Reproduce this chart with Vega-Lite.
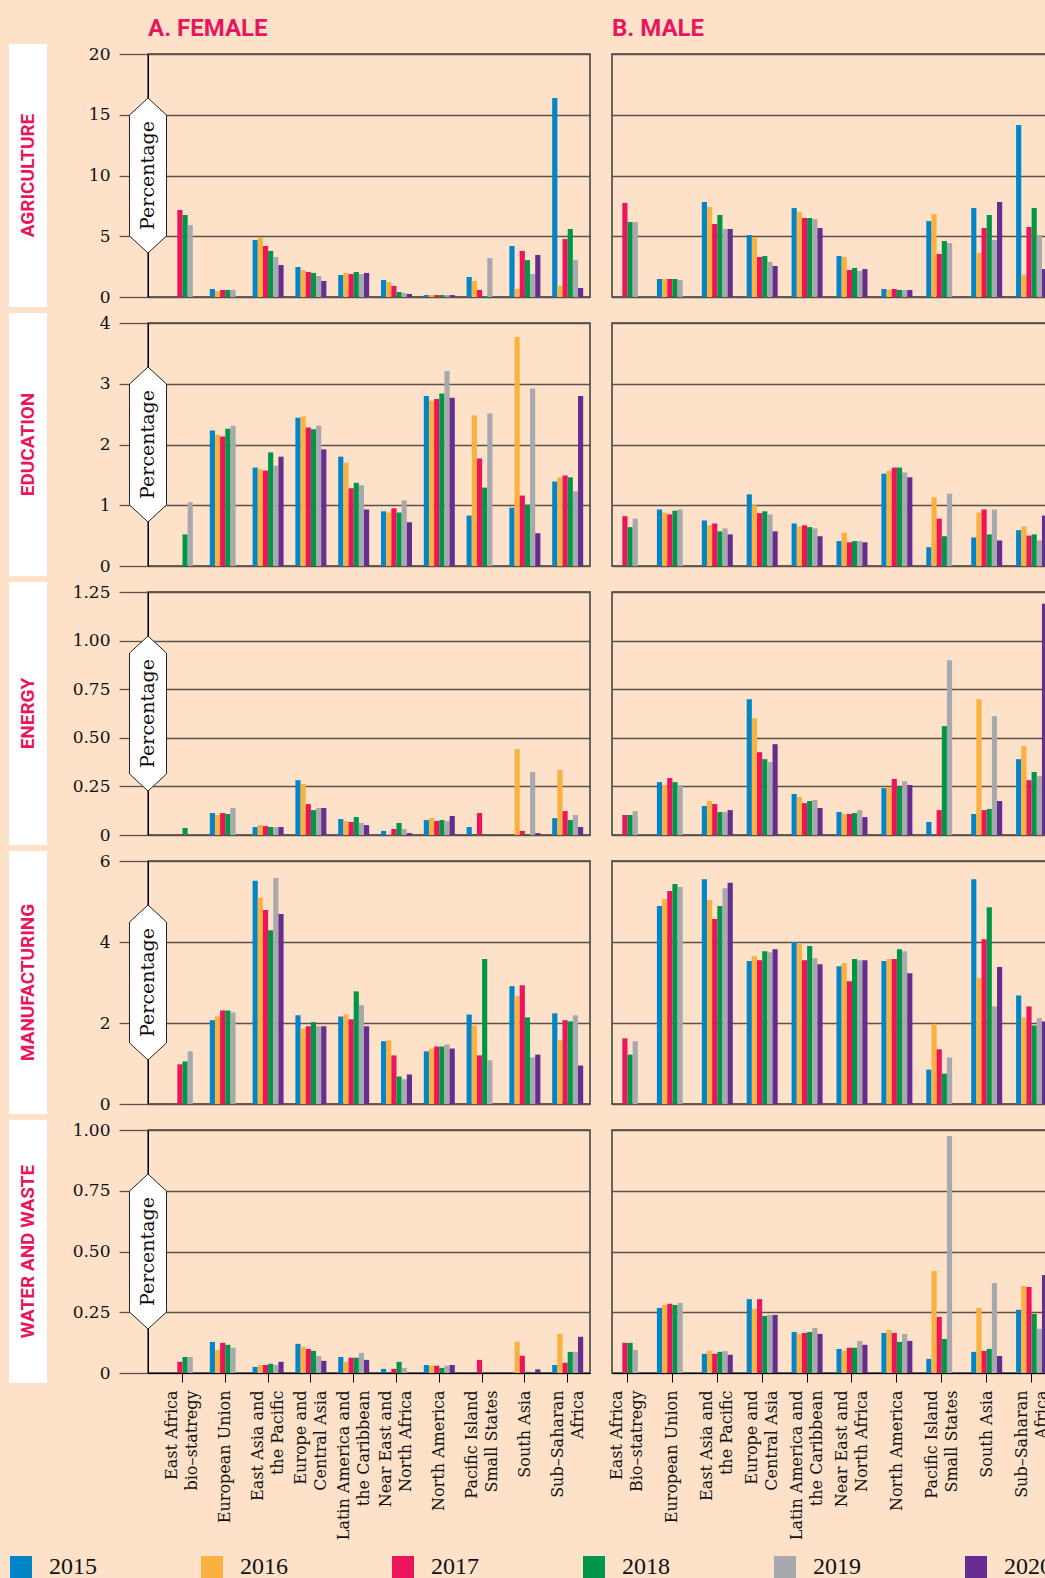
{
"$schema": "https://vega.github.io/schema/vega-lite/v6.json",
"background": "#FDE1C9",
"padding": {"left": 8, "top": 16, "right": 0, "bottom": 0},
"columns": 4,
"spacing": {"row": 26, "column": 22},
"bounds": "flush",
"datasets": {"bars": [
{"sector":"AGRICULTURE","sex":"F","region":"East Africa|bio–statregy","2017":7.16,"2018":6.75,"2019":5.92},
{"sector":"AGRICULTURE","sex":"F","region":"European Union","2015":0.66,"2016":0.49,"2017":0.58,"2018":0.58,"2019":0.58},
{"sector":"AGRICULTURE","sex":"F","region":"East Asia and|the Pacific","2015":4.69,"2016":4.91,"2017":4.20,"2018":3.79,"2019":3.29,"2020":2.63},
{"sector":"AGRICULTURE","sex":"F","region":"Europe and|Central Asia","2015":2.47,"2016":2.22,"2017":2.06,"2018":1.98,"2019":1.73,"2020":1.32},
{"sector":"AGRICULTURE","sex":"F","region":"Latin America and|the Caribbean","2015":1.81,"2016":1.98,"2017":1.89,"2018":2.06,"2019":1.89,"2020":1.98},
{"sector":"AGRICULTURE","sex":"F","region":"Near East and|North Africa","2015":1.40,"2016":1.23,"2017":0.91,"2018":0.41,"2019":0.33,"2020":0.25},
{"sector":"AGRICULTURE","sex":"F","region":"North America","2015":0.16,"2016":0.16,"2017":0.16,"2018":0.16,"2019":0.16,"2020":0.16},
{"sector":"AGRICULTURE","sex":"F","region":"Pacific Island|Small States","2015":1.65,"2016":1.32,"2017":0.58,"2018":0.08,"2019":3.21},
{"sector":"AGRICULTURE","sex":"F","region":"South Asia","2015":4.20,"2016":0.66,"2017":3.79,"2018":3.04,"2019":1.89,"2020":3.46},
{"sector":"AGRICULTURE","sex":"F","region":"Sub–Saharan|Africa","2015":16.38,"2016":0.91,"2017":4.77,"2018":5.60,"2019":3.04,"2020":0.74},
{"sector":"AGRICULTURE","sex":"M","region":"East Africa|bio–statregy","2017":7.74,"2018":6.17,"2019":6.17},
{"sector":"AGRICULTURE","sex":"M","region":"European Union","2015":1.48,"2016":1.48,"2017":1.48,"2018":1.48,"2019":1.40},
{"sector":"AGRICULTURE","sex":"M","region":"East Asia and|the Pacific","2015":7.82,"2016":7.41,"2017":6.01,"2018":6.75,"2019":5.60,"2020":5.60},
{"sector":"AGRICULTURE","sex":"M","region":"Europe and|Central Asia","2015":5.10,"2016":4.94,"2017":3.29,"2018":3.37,"2019":2.88,"2020":2.55},
{"sector":"AGRICULTURE","sex":"M","region":"Latin America and|the Caribbean","2015":7.32,"2016":6.99,"2017":6.50,"2018":6.50,"2019":6.42,"2020":5.68},
{"sector":"AGRICULTURE","sex":"M","region":"Near East and|North Africa","2015":3.37,"2016":3.29,"2017":2.22,"2018":2.39,"2019":2.14,"2020":2.30},
{"sector":"AGRICULTURE","sex":"M","region":"North America","2015":0.66,"2016":0.58,"2017":0.66,"2018":0.58,"2019":0.58,"2020":0.58},
{"sector":"AGRICULTURE","sex":"M","region":"Pacific Island|Small States","2015":6.25,"2016":6.83,"2017":3.54,"2018":4.61,"2019":4.44},
{"sector":"AGRICULTURE","sex":"M","region":"South Asia","2015":7.32,"2016":3.62,"2017":5.68,"2018":6.75,"2019":4.69,"2020":7.82},
{"sector":"AGRICULTURE","sex":"M","region":"Sub–Saharan|Africa","2015":14.15,"2016":1.81,"2017":5.76,"2018":7.32,"2019":5.10,"2020":2.30},
{"sector":"EDUCATION","sex":"F","region":"East Africa|bio–statregy","2018":0.52,"2019":1.05},
{"sector":"EDUCATION","sex":"F","region":"European Union","2015":2.23,"2016":2.16,"2017":2.13,"2018":2.26,"2019":2.31},
{"sector":"EDUCATION","sex":"F","region":"East Asia and|the Pacific","2015":1.62,"2016":1.59,"2017":1.57,"2018":1.87,"2019":1.65,"2020":1.80},
{"sector":"EDUCATION","sex":"F","region":"Europe and|Central Asia","2015":2.44,"2016":2.46,"2017":2.28,"2018":2.25,"2019":2.31,"2020":1.92},
{"sector":"EDUCATION","sex":"F","region":"Latin America and|the Caribbean","2015":1.80,"2016":1.70,"2017":1.28,"2018":1.37,"2019":1.33,"2020":0.93},
{"sector":"EDUCATION","sex":"F","region":"Near East and|North Africa","2015":0.90,"2016":0.88,"2017":0.95,"2018":0.88,"2019":1.08,"2020":0.72},
{"sector":"EDUCATION","sex":"F","region":"North America","2015":2.80,"2016":2.72,"2017":2.75,"2018":2.84,"2019":3.21,"2020":2.77},
{"sector":"EDUCATION","sex":"F","region":"Pacific Island|Small States","2015":0.83,"2016":2.48,"2017":1.77,"2018":1.29,"2019":2.51},
{"sector":"EDUCATION","sex":"F","region":"South Asia","2015":0.96,"2016":3.77,"2017":1.16,"2018":1.01,"2019":2.92,"2020":0.54},
{"sector":"EDUCATION","sex":"F","region":"Sub–Saharan|Africa","2015":1.39,"2016":1.46,"2017":1.49,"2018":1.46,"2019":1.23,"2020":2.80},
{"sector":"EDUCATION","sex":"M","region":"East Africa|bio–statregy","2017":0.82,"2018":0.64,"2019":0.78},
{"sector":"EDUCATION","sex":"M","region":"European Union","2015":0.93,"2016":0.88,"2017":0.85,"2018":0.91,"2019":0.93},
{"sector":"EDUCATION","sex":"M","region":"East Asia and|the Pacific","2015":0.75,"2016":0.67,"2017":0.70,"2018":0.57,"2019":0.62,"2020":0.52},
{"sector":"EDUCATION","sex":"M","region":"Europe and|Central Asia","2015":1.18,"2016":1.00,"2017":0.87,"2018":0.90,"2019":0.85,"2020":0.57},
{"sector":"EDUCATION","sex":"M","region":"Latin America and|the Caribbean","2015":0.70,"2016":0.65,"2017":0.67,"2018":0.64,"2019":0.62,"2020":0.49},
{"sector":"EDUCATION","sex":"M","region":"Near East and|North Africa","2015":0.41,"2016":0.55,"2017":0.39,"2018":0.41,"2019":0.41,"2020":0.39},
{"sector":"EDUCATION","sex":"M","region":"North America","2015":1.52,"2016":1.57,"2017":1.62,"2018":1.62,"2019":1.54,"2020":1.46},
{"sector":"EDUCATION","sex":"M","region":"Pacific Island|Small States","2015":0.31,"2016":1.13,"2017":0.78,"2018":0.49,"2019":1.19},
{"sector":"EDUCATION","sex":"M","region":"South Asia","2015":0.47,"2016":0.88,"2017":0.93,"2018":0.52,"2019":0.93,"2020":0.42},
{"sector":"EDUCATION","sex":"M","region":"Sub–Saharan|Africa","2015":0.59,"2016":0.65,"2017":0.50,"2018":0.52,"2019":0.42,"2020":0.83},
{"sector":"ENERGY","sex":"F","region":"East Africa|bio–statregy","2017":0.005,"2018":0.036},
{"sector":"ENERGY","sex":"F","region":"European Union","2015":0.113,"2016":0.103,"2017":0.113,"2018":0.108,"2019":0.139},
{"sector":"ENERGY","sex":"F","region":"East Asia and|the Pacific","2015":0.041,"2016":0.051,"2017":0.046,"2018":0.041,"2019":0.041,"2020":0.041},
{"sector":"ENERGY","sex":"F","region":"Europe and|Central Asia","2015":0.282,"2016":0.262,"2017":0.159,"2018":0.128,"2019":0.139,"2020":0.139},
{"sector":"ENERGY","sex":"F","region":"Latin America and|the Caribbean","2015":0.082,"2016":0.072,"2017":0.067,"2018":0.092,"2019":0.062,"2020":0.051},
{"sector":"ENERGY","sex":"F","region":"Near East and|North Africa","2015":0.021,"2016":0.005,"2017":0.031,"2018":0.062,"2019":0.031,"2020":0.010},
{"sector":"ENERGY","sex":"F","region":"North America","2015":0.077,"2016":0.087,"2017":0.072,"2018":0.077,"2019":0.072,"2020":0.098},
{"sector":"ENERGY","sex":"F","region":"Pacific Island|Small States","2015":0.041,"2017":0.113},
{"sector":"ENERGY","sex":"F","region":"South Asia","2016":0.442,"2017":0.021,"2018":0.005,"2019":0.324,"2020":0.010},
{"sector":"ENERGY","sex":"F","region":"Sub–Saharan|Africa","2015":0.087,"2016":0.334,"2017":0.123,"2018":0.077,"2019":0.103,"2020":0.041},
{"sector":"ENERGY","sex":"M","region":"East Africa|bio–statregy","2017":0.103,"2018":0.103,"2019":0.123},
{"sector":"ENERGY","sex":"M","region":"European Union","2015":0.272,"2016":0.257,"2017":0.293,"2018":0.272,"2019":0.257},
{"sector":"ENERGY","sex":"M","region":"East Asia and|the Pacific","2015":0.149,"2016":0.175,"2017":0.159,"2018":0.118,"2019":0.118,"2020":0.128},
{"sector":"ENERGY","sex":"M","region":"Europe and|Central Asia","2015":0.698,"2016":0.601,"2017":0.426,"2018":0.390,"2019":0.375,"2020":0.467},
{"sector":"ENERGY","sex":"M","region":"Latin America and|the Caribbean","2015":0.211,"2016":0.195,"2017":0.164,"2018":0.175,"2019":0.180,"2020":0.139},
{"sector":"ENERGY","sex":"M","region":"Near East and|North Africa","2015":0.118,"2016":0.108,"2017":0.108,"2018":0.113,"2019":0.128,"2020":0.092},
{"sector":"ENERGY","sex":"M","region":"North America","2015":0.241,"2016":0.247,"2017":0.288,"2018":0.247,"2019":0.277,"2020":0.257},
{"sector":"ENERGY","sex":"M","region":"Pacific Island|Small States","2015":0.067,"2017":0.128,"2018":0.560,"2019":0.899},
{"sector":"ENERGY","sex":"M","region":"South Asia","2015":0.108,"2016":0.698,"2017":0.128,"2018":0.134,"2019":0.611,"2020":0.175},
{"sector":"ENERGY","sex":"M","region":"Sub–Saharan|Africa","2015":0.390,"2016":0.457,"2017":0.282,"2018":0.324,"2019":0.303,"2020":1.19},
{"sector":"MANUFACTURING","sex":"F","region":"East Africa|bio–statregy","2017":0.98,"2018":1.05,"2019":1.30},
{"sector":"MANUFACTURING","sex":"F","region":"European Union","2015":2.07,"2016":2.16,"2017":2.31,"2018":2.31,"2019":2.26},
{"sector":"MANUFACTURING","sex":"F","region":"East Asia and|the Pacific","2015":5.51,"2016":5.09,"2017":4.79,"2018":4.29,"2019":5.58,"2020":4.69},
{"sector":"MANUFACTURING","sex":"F","region":"Europe and|Central Asia","2015":2.19,"2016":1.87,"2017":1.92,"2018":2.02,"2019":1.92,"2020":1.92},
{"sector":"MANUFACTURING","sex":"F","region":"Latin America and|the Caribbean","2015":2.16,"2016":2.21,"2017":2.09,"2018":2.78,"2019":2.44,"2020":1.92},
{"sector":"MANUFACTURING","sex":"F","region":"Near East and|North Africa","2015":1.55,"2016":1.57,"2017":1.20,"2018":0.68,"2019":0.61,"2020":0.73},
{"sector":"MANUFACTURING","sex":"F","region":"North America","2015":1.30,"2016":1.37,"2017":1.42,"2018":1.42,"2019":1.47,"2020":1.37},
{"sector":"MANUFACTURING","sex":"F","region":"Pacific Island|Small States","2015":2.21,"2016":1.94,"2017":1.20,"2018":3.58,"2019":1.08},
{"sector":"MANUFACTURING","sex":"F","region":"South Asia","2015":2.91,"2016":2.66,"2017":2.93,"2018":2.14,"2019":1.15,"2020":1.22},
{"sector":"MANUFACTURING","sex":"F","region":"Sub–Saharan|Africa","2015":2.24,"2016":1.57,"2017":2.07,"2018":2.04,"2019":2.19,"2020":0.95},
{"sector":"MANUFACTURING","sex":"M","region":"East Africa|bio–statregy","2017":1.62,"2018":1.22,"2019":1.55},
{"sector":"MANUFACTURING","sex":"M","region":"European Union","2015":4.89,"2016":5.06,"2017":5.26,"2018":5.43,"2019":5.36},
{"sector":"MANUFACTURING","sex":"M","region":"East Asia and|the Pacific","2015":5.55,"2016":5.04,"2017":4.57,"2018":4.89,"2019":5.33,"2020":5.46},
{"sector":"MANUFACTURING","sex":"M","region":"Europe and|Central Asia","2015":3.53,"2016":3.65,"2017":3.55,"2018":3.77,"2019":3.75,"2020":3.82},
{"sector":"MANUFACTURING","sex":"M","region":"Latin America and|the Caribbean","2015":4.00,"2016":3.95,"2017":3.55,"2018":3.90,"2019":3.60,"2020":3.45},
{"sector":"MANUFACTURING","sex":"M","region":"Near East and|North Africa","2015":3.40,"2016":3.48,"2017":3.03,"2018":3.58,"2019":3.55,"2020":3.55},
{"sector":"MANUFACTURING","sex":"M","region":"North America","2015":3.53,"2016":3.58,"2017":3.58,"2018":3.82,"2019":3.77,"2020":3.23},
{"sector":"MANUFACTURING","sex":"M","region":"Pacific Island|Small States","2015":0.85,"2016":1.98,"2017":1.35,"2018":0.75,"2019":1.15},
{"sector":"MANUFACTURING","sex":"M","region":"South Asia","2015":5.55,"2016":3.11,"2017":4.07,"2018":4.86,"2019":2.41,"2020":3.38},
{"sector":"MANUFACTURING","sex":"M","region":"Sub–Saharan|Africa","2015":2.68,"2016":2.14,"2017":2.41,"2018":1.94,"2019":2.12,"2020":2.04},
{"sector":"WATER AND WASTE","sex":"F","region":"East Africa|bio–statregy","2017":0.046,"2018":0.066,"2019":0.066},
{"sector":"WATER AND WASTE","sex":"F","region":"European Union","2015":0.128,"2016":0.095,"2017":0.124,"2018":0.116,"2019":0.104},
{"sector":"WATER AND WASTE","sex":"F","region":"East Asia and|the Pacific","2015":0.025,"2016":0.033,"2017":0.033,"2018":0.038,"2019":0.033,"2020":0.046},
{"sector":"WATER AND WASTE","sex":"F","region":"Europe and|Central Asia","2015":0.120,"2016":0.108,"2017":0.099,"2018":0.091,"2019":0.070,"2020":0.050},
{"sector":"WATER AND WASTE","sex":"F","region":"Latin America and|the Caribbean","2015":0.066,"2016":0.046,"2017":0.063,"2018":0.063,"2019":0.083,"2020":0.054},
{"sector":"WATER AND WASTE","sex":"F","region":"Near East and|North Africa","2015":0.017,"2017":0.017,"2018":0.046,"2019":0.021},
{"sector":"WATER AND WASTE","sex":"F","region":"North America","2015":0.033,"2016":0.030,"2017":0.030,"2018":0.021,"2019":0.030,"2020":0.033},
{"sector":"WATER AND WASTE","sex":"F","region":"Pacific Island|Small States","2017":0.054},
{"sector":"WATER AND WASTE","sex":"F","region":"South Asia","2016":0.128,"2017":0.071,"2018":0.005,"2020":0.015},
{"sector":"WATER AND WASTE","sex":"F","region":"Sub–Saharan|Africa","2015":0.033,"2016":0.161,"2017":0.042,"2018":0.087,"2019":0.087,"2020":0.149},
{"sector":"WATER AND WASTE","sex":"M","region":"East Africa|bio–statregy","2017":0.124,"2018":0.124,"2019":0.095},
{"sector":"WATER AND WASTE","sex":"M","region":"European Union","2015":0.268,"2016":0.280,"2017":0.285,"2018":0.280,"2019":0.288},
{"sector":"WATER AND WASTE","sex":"M","region":"East Asia and|the Pacific","2015":0.079,"2016":0.091,"2017":0.079,"2018":0.087,"2019":0.091,"2020":0.075},
{"sector":"WATER AND WASTE","sex":"M","region":"Europe and|Central Asia","2015":0.304,"2016":0.264,"2017":0.304,"2018":0.235,"2019":0.239,"2020":0.239},
{"sector":"WATER AND WASTE","sex":"M","region":"Latin America and|the Caribbean","2015":0.169,"2016":0.161,"2017":0.165,"2018":0.169,"2019":0.186,"2020":0.161},
{"sector":"WATER AND WASTE","sex":"M","region":"Near East and|North Africa","2015":0.099,"2016":0.091,"2017":0.104,"2018":0.104,"2019":0.132,"2020":0.116},
{"sector":"WATER AND WASTE","sex":"M","region":"North America","2015":0.165,"2016":0.177,"2017":0.165,"2018":0.128,"2019":0.161,"2020":0.132},
{"sector":"WATER AND WASTE","sex":"M","region":"Pacific Island|Small States","2015":0.058,"2016":0.420,"2017":0.231,"2018":0.140,"2019":0.975},
{"sector":"WATER AND WASTE","sex":"M","region":"South Asia","2015":0.087,"2016":0.268,"2017":0.091,"2018":0.099,"2019":0.370,"2020":0.070},
{"sector":"WATER AND WASTE","sex":"M","region":"Sub–Saharan|Africa","2015":0.260,"2016":0.358,"2017":0.354,"2018":0.243,"2019":0.182,"2020":0.403}
]},
"concat": [
{"width": 18, "height": 243, "view": {"fill": "white", "stroke": "white", "strokeWidth": 20}, "data": {"values": [{"t": "AGRICULTURE"}]}, "mark": {"type": "text", "angle": 270, "font": "Roboto", "fontSize": 19, "fontWeight": "bold", "color": "#E8175D", "align": "center", "baseline": "middle"}, "encoding": {"text": {"field": "t"}}},
{"width": 67, "height": 10, "view": {"stroke": null}, "data": {"values": [{"t": ""}]}, "mark": "text", "encoding": {"text": {"field": "t"}}},
{"width": 442, "height": 243, "title": {"text": "A. FEMALE", "offset": 4},
 "layer": [
  {"data": {"name": "bars"}, "transform": [{"filter": "datum.sector === 'AGRICULTURE' && datum.sex === 'F'"}, {"fold": ["2015","2016","2017","2018","2019","2020"], "as": ["year","value"]}, {"filter": "isValid(datum.value)"}],
   "mark": {"type": "bar"},
   "encoding": {
    "x": {"field": "region", "type": "nominal", "scale": {"domain": ["East Africa|bio–statregy","European Union","East Asia and|the Pacific","Europe and|Central Asia","Latin America and|the Caribbean","Near East and|North Africa","North America","Pacific Island|Small States","South Asia","Sub–Saharan|Africa"], "paddingInner": 0.276, "paddingOuter": 0.3015, "align": 0.736}, "axis": null},
    "xOffset": {"field": "year", "type": "nominal", "scale": {"domain": ["2015","2016","2017","2018","2019","2020"], "paddingInner": 0, "paddingOuter": 0}},
    "y": {"field": "value", "type": "quantitative", "scale": {"domain": [0, 20], "nice": false}, "axis": {"values": [0,5,10,15,20], "format": "d", "title": null, "tickSize": 29, "labelPadding": 9}},
    "color": {"field": "year", "type": "nominal", "scale": {"domain": ["2015","2016","2017","2018","2019","2020"], "range": ["#0085C8","#FBB040","#EC155C","#00964A","#A8A9AD","#652D90"]},
      "legend": {"orient": "none", "legendX": -10, "legendY": 1501, "direction": "horizontal", "columns": 6, "title": null, "symbolType": "square", "symbolSize": 484, "symbolStrokeWidth": 0, "labelFont": "Liberation Serif", "labelFontSize": 24, "labelColor": "#111", "labelOffset": 16, "columnPadding": 103, "padding": 0, "offset": 0}}
   }},
  {"data": {"values": [{"t": "Percentage"}]}, "mark": {"type": "point", "shape": "M0,-1L0.239,-0.78L0.239,0.78L0,1L-0.239,0.78L-0.239,-0.78Z", "size": 24025, "filled": true, "fill": "white", "stroke": "#222", "strokeWidth": 1, "opacity": 1}, "encoding": {"x": {"value": 0}, "y": {"datum": 10, "type": "quantitative"}}},
  {"data": {"values": [{"t": "Percentage"}]}, "mark": {"type": "text", "angle": 270, "font": "DejaVu Serif", "fontSize": 19, "color": "#111", "align": "center", "baseline": "middle"}, "encoding": {"x": {"value": 0}, "y": {"datum": 10, "type": "quantitative"}, "text": {"field": "t"}}}
 ]},
{"width": 442, "height": 243, "title": {"text": "B. MALE", "offset": 13}, "data": {"name": "bars"}, "transform": [{"filter": "datum.sector === 'AGRICULTURE' && datum.sex === 'M'"}, {"fold": ["2015","2016","2017","2018","2019","2020"], "as": ["year","value"]}, {"filter": "isValid(datum.value)"}],
 "mark": {"type": "bar"},
 "encoding": {
  "x": {"field": "region", "type": "nominal", "scale": {"domain": ["East Africa|bio–statregy","European Union","East Asia and|the Pacific","Europe and|Central Asia","Latin America and|the Caribbean","Near East and|North Africa","North America","Pacific Island|Small States","South Asia","Sub–Saharan|Africa"], "paddingInner": 0.31, "paddingOuter": 0.077, "align": 0}, "axis": null},
  "xOffset": {"field": "year", "type": "nominal", "scale": {"domain": ["2015","2016","2017","2018","2019","2020"], "paddingInner": 0, "paddingOuter": 0}},
  "y": {"field": "value", "type": "quantitative", "scale": {"domain": [0, 20], "nice": false}, "axis": {"values": [0,5,10,15,20], "title": null, "labels": false, "ticks": false, "domain": false}},
  "color": {"field": "year", "type": "nominal", "scale": {"domain": ["2015","2016","2017","2018","2019","2020"], "range": ["#0085C8","#FBB040","#EC155C","#00964A","#A8A9AD","#652D90"]}}
 }},

{"width": 18, "height": 243, "view": {"fill": "white", "stroke": "white", "strokeWidth": 20}, "data": {"values": [{"t": "EDUCATION"}]}, "mark": {"type": "text", "angle": 270, "font": "Roboto", "fontSize": 19, "fontWeight": "bold", "color": "#E8175D", "align": "center", "baseline": "middle"}, "encoding": {"text": {"field": "t"}}},
{"width": 67, "height": 10, "view": {"stroke": null}, "data": {"values": [{"t": ""}]}, "mark": "text", "encoding": {"text": {"field": "t"}}},
{"width": 442, "height": 243,
 "layer": [
  {"data": {"name": "bars"}, "transform": [{"filter": "datum.sector === 'EDUCATION' && datum.sex === 'F'"}, {"fold": ["2015","2016","2017","2018","2019","2020"], "as": ["year","value"]}, {"filter": "isValid(datum.value)"}],
   "mark": {"type": "bar"},
   "encoding": {
    "x": {"field": "region", "type": "nominal", "scale": {"domain": ["East Africa|bio–statregy","European Union","East Asia and|the Pacific","Europe and|Central Asia","Latin America and|the Caribbean","Near East and|North Africa","North America","Pacific Island|Small States","South Asia","Sub–Saharan|Africa"], "paddingInner": 0.276, "paddingOuter": 0.3015, "align": 0.736}, "axis": null},
    "xOffset": {"field": "year", "type": "nominal", "scale": {"domain": ["2015","2016","2017","2018","2019","2020"], "paddingInner": 0, "paddingOuter": 0}},
    "y": {"field": "value", "type": "quantitative", "scale": {"domain": [0, 4], "nice": false}, "axis": {"values": [0,1,2,3,4], "format": "d", "title": null, "tickSize": 29, "labelPadding": 9}},
    "color": {"field": "year", "type": "nominal", "scale": {"domain": ["2015","2016","2017","2018","2019","2020"], "range": ["#0085C8","#FBB040","#EC155C","#00964A","#A8A9AD","#652D90"]}}
   }},
  {"data": {"values": [{"t": "Percentage"}]}, "mark": {"type": "point", "shape": "M0,-1L0.239,-0.78L0.239,0.78L0,1L-0.239,0.78L-0.239,-0.78Z", "size": 24025, "filled": true, "fill": "white", "stroke": "#222", "strokeWidth": 1, "opacity": 1}, "encoding": {"x": {"value": 0}, "y": {"datum": 2, "type": "quantitative"}}},
  {"data": {"values": [{"t": "Percentage"}]}, "mark": {"type": "text", "angle": 270, "font": "DejaVu Serif", "fontSize": 19, "color": "#111", "align": "center", "baseline": "middle"}, "encoding": {"x": {"value": 0}, "y": {"datum": 2, "type": "quantitative"}, "text": {"field": "t"}}}
 ]},
{"width": 442, "height": 243, "data": {"name": "bars"}, "transform": [{"filter": "datum.sector === 'EDUCATION' && datum.sex === 'M'"}, {"fold": ["2015","2016","2017","2018","2019","2020"], "as": ["year","value"]}, {"filter": "isValid(datum.value)"}],
 "mark": {"type": "bar"},
 "encoding": {
  "x": {"field": "region", "type": "nominal", "scale": {"domain": ["East Africa|bio–statregy","European Union","East Asia and|the Pacific","Europe and|Central Asia","Latin America and|the Caribbean","Near East and|North Africa","North America","Pacific Island|Small States","South Asia","Sub–Saharan|Africa"], "paddingInner": 0.31, "paddingOuter": 0.077, "align": 0}, "axis": null},
  "xOffset": {"field": "year", "type": "nominal", "scale": {"domain": ["2015","2016","2017","2018","2019","2020"], "paddingInner": 0, "paddingOuter": 0}},
  "y": {"field": "value", "type": "quantitative", "scale": {"domain": [0, 4], "nice": false}, "axis": {"values": [0,1,2,3,4], "title": null, "labels": false, "ticks": false, "domain": false}},
  "color": {"field": "year", "type": "nominal", "scale": {"domain": ["2015","2016","2017","2018","2019","2020"], "range": ["#0085C8","#FBB040","#EC155C","#00964A","#A8A9AD","#652D90"]}}
 }},

{"width": 18, "height": 243, "view": {"fill": "white", "stroke": "white", "strokeWidth": 20}, "data": {"values": [{"t": "ENERGY"}]}, "mark": {"type": "text", "angle": 270, "font": "Roboto", "fontSize": 19, "fontWeight": "bold", "color": "#E8175D", "align": "center", "baseline": "middle"}, "encoding": {"text": {"field": "t"}}},
{"width": 67, "height": 10, "view": {"stroke": null}, "data": {"values": [{"t": ""}]}, "mark": "text", "encoding": {"text": {"field": "t"}}},
{"width": 442, "height": 243,
 "layer": [
  {"data": {"name": "bars"}, "transform": [{"filter": "datum.sector === 'ENERGY' && datum.sex === 'F'"}, {"fold": ["2015","2016","2017","2018","2019","2020"], "as": ["year","value"]}, {"filter": "isValid(datum.value)"}],
   "mark": {"type": "bar"},
   "encoding": {
    "x": {"field": "region", "type": "nominal", "scale": {"domain": ["East Africa|bio–statregy","European Union","East Asia and|the Pacific","Europe and|Central Asia","Latin America and|the Caribbean","Near East and|North Africa","North America","Pacific Island|Small States","South Asia","Sub–Saharan|Africa"], "paddingInner": 0.276, "paddingOuter": 0.3015, "align": 0.736}, "axis": null},
    "xOffset": {"field": "year", "type": "nominal", "scale": {"domain": ["2015","2016","2017","2018","2019","2020"], "paddingInner": 0, "paddingOuter": 0}},
    "y": {"field": "value", "type": "quantitative", "scale": {"domain": [0, 1.25], "nice": false}, "axis": {"values": [0,0.25,0.5,0.75,1,1.25], "labelExpr": "datum.value == 0 ? '0' : format(datum.value, '.2f')", "title": null, "tickSize": 29, "labelPadding": 9}},
    "color": {"field": "year", "type": "nominal", "scale": {"domain": ["2015","2016","2017","2018","2019","2020"], "range": ["#0085C8","#FBB040","#EC155C","#00964A","#A8A9AD","#652D90"]}}
   }},
  {"data": {"values": [{"t": "Percentage"}]}, "mark": {"type": "point", "shape": "M0,-1L0.239,-0.78L0.239,0.78L0,1L-0.239,0.78L-0.239,-0.78Z", "size": 24025, "filled": true, "fill": "white", "stroke": "#222", "strokeWidth": 1, "opacity": 1}, "encoding": {"x": {"value": 0}, "y": {"datum": 0.625, "type": "quantitative"}}},
  {"data": {"values": [{"t": "Percentage"}]}, "mark": {"type": "text", "angle": 270, "font": "DejaVu Serif", "fontSize": 19, "color": "#111", "align": "center", "baseline": "middle"}, "encoding": {"x": {"value": 0}, "y": {"datum": 0.625, "type": "quantitative"}, "text": {"field": "t"}}}
 ]},
{"width": 442, "height": 243, "data": {"name": "bars"}, "transform": [{"filter": "datum.sector === 'ENERGY' && datum.sex === 'M'"}, {"fold": ["2015","2016","2017","2018","2019","2020"], "as": ["year","value"]}, {"filter": "isValid(datum.value)"}],
 "mark": {"type": "bar"},
 "encoding": {
  "x": {"field": "region", "type": "nominal", "scale": {"domain": ["East Africa|bio–statregy","European Union","East Asia and|the Pacific","Europe and|Central Asia","Latin America and|the Caribbean","Near East and|North Africa","North America","Pacific Island|Small States","South Asia","Sub–Saharan|Africa"], "paddingInner": 0.31, "paddingOuter": 0.077, "align": 0}, "axis": null},
  "xOffset": {"field": "year", "type": "nominal", "scale": {"domain": ["2015","2016","2017","2018","2019","2020"], "paddingInner": 0, "paddingOuter": 0}},
  "y": {"field": "value", "type": "quantitative", "scale": {"domain": [0, 1.25], "nice": false}, "axis": {"values": [0,0.25,0.5,0.75,1,1.25], "title": null, "labels": false, "ticks": false, "domain": false}},
  "color": {"field": "year", "type": "nominal", "scale": {"domain": ["2015","2016","2017","2018","2019","2020"], "range": ["#0085C8","#FBB040","#EC155C","#00964A","#A8A9AD","#652D90"]}}
 }},

{"width": 18, "height": 243, "view": {"fill": "white", "stroke": "white", "strokeWidth": 20}, "data": {"values": [{"t": "MANUFACTURING"}]}, "mark": {"type": "text", "angle": 270, "font": "Roboto", "fontSize": 19, "fontWeight": "bold", "color": "#E8175D", "align": "center", "baseline": "middle"}, "encoding": {"text": {"field": "t"}}},
{"width": 67, "height": 10, "view": {"stroke": null}, "data": {"values": [{"t": ""}]}, "mark": "text", "encoding": {"text": {"field": "t"}}},
{"width": 442, "height": 243,
 "layer": [
  {"data": {"name": "bars"}, "transform": [{"filter": "datum.sector === 'MANUFACTURING' && datum.sex === 'F'"}, {"fold": ["2015","2016","2017","2018","2019","2020"], "as": ["year","value"]}, {"filter": "isValid(datum.value)"}],
   "mark": {"type": "bar"},
   "encoding": {
    "x": {"field": "region", "type": "nominal", "scale": {"domain": ["East Africa|bio–statregy","European Union","East Asia and|the Pacific","Europe and|Central Asia","Latin America and|the Caribbean","Near East and|North Africa","North America","Pacific Island|Small States","South Asia","Sub–Saharan|Africa"], "paddingInner": 0.276, "paddingOuter": 0.3015, "align": 0.736}, "axis": null},
    "xOffset": {"field": "year", "type": "nominal", "scale": {"domain": ["2015","2016","2017","2018","2019","2020"], "paddingInner": 0, "paddingOuter": 0}},
    "y": {"field": "value", "type": "quantitative", "scale": {"domain": [0, 6], "nice": false}, "axis": {"values": [0,2,4,6], "format": "d", "title": null, "tickSize": 29, "labelPadding": 9}},
    "color": {"field": "year", "type": "nominal", "scale": {"domain": ["2015","2016","2017","2018","2019","2020"], "range": ["#0085C8","#FBB040","#EC155C","#00964A","#A8A9AD","#652D90"]}}
   }},
  {"data": {"values": [{"t": "Percentage"}]}, "mark": {"type": "point", "shape": "M0,-1L0.239,-0.78L0.239,0.78L0,1L-0.239,0.78L-0.239,-0.78Z", "size": 24025, "filled": true, "fill": "white", "stroke": "#222", "strokeWidth": 1, "opacity": 1}, "encoding": {"x": {"value": 0}, "y": {"datum": 3, "type": "quantitative"}}},
  {"data": {"values": [{"t": "Percentage"}]}, "mark": {"type": "text", "angle": 270, "font": "DejaVu Serif", "fontSize": 19, "color": "#111", "align": "center", "baseline": "middle"}, "encoding": {"x": {"value": 0}, "y": {"datum": 3, "type": "quantitative"}, "text": {"field": "t"}}}
 ]},
{"width": 442, "height": 243, "data": {"name": "bars"}, "transform": [{"filter": "datum.sector === 'MANUFACTURING' && datum.sex === 'M'"}, {"fold": ["2015","2016","2017","2018","2019","2020"], "as": ["year","value"]}, {"filter": "isValid(datum.value)"}],
 "mark": {"type": "bar"},
 "encoding": {
  "x": {"field": "region", "type": "nominal", "scale": {"domain": ["East Africa|bio–statregy","European Union","East Asia and|the Pacific","Europe and|Central Asia","Latin America and|the Caribbean","Near East and|North Africa","North America","Pacific Island|Small States","South Asia","Sub–Saharan|Africa"], "paddingInner": 0.31, "paddingOuter": 0.077, "align": 0}, "axis": null},
  "xOffset": {"field": "year", "type": "nominal", "scale": {"domain": ["2015","2016","2017","2018","2019","2020"], "paddingInner": 0, "paddingOuter": 0}},
  "y": {"field": "value", "type": "quantitative", "scale": {"domain": [0, 6], "nice": false}, "axis": {"values": [0,2,4,6], "title": null, "labels": false, "ticks": false, "domain": false}},
  "color": {"field": "year", "type": "nominal", "scale": {"domain": ["2015","2016","2017","2018","2019","2020"], "range": ["#0085C8","#FBB040","#EC155C","#00964A","#A8A9AD","#652D90"]}}
 }},

{"width": 18, "height": 243, "view": {"fill": "white", "stroke": "white", "strokeWidth": 20}, "data": {"values": [{"t": "WATER AND WASTE"}]}, "mark": {"type": "text", "angle": 270, "font": "Roboto", "fontSize": 19, "fontWeight": "bold", "color": "#E8175D", "align": "center", "baseline": "middle"}, "encoding": {"text": {"field": "t"}}},
{"width": 67, "height": 10, "view": {"stroke": null}, "data": {"values": [{"t": ""}]}, "mark": "text", "encoding": {"text": {"field": "t"}}},
{"width": 442, "height": 243,
 "layer": [
  {"data": {"name": "bars"}, "transform": [{"filter": "datum.sector === 'WATER AND WASTE' && datum.sex === 'F'"}, {"fold": ["2015","2016","2017","2018","2019","2020"], "as": ["year","value"]}, {"filter": "isValid(datum.value)"}],
   "mark": {"type": "bar"},
   "encoding": {
    "x": {"field": "region", "type": "nominal", "scale": {"domain": ["East Africa|bio–statregy","European Union","East Asia and|the Pacific","Europe and|Central Asia","Latin America and|the Caribbean","Near East and|North Africa","North America","Pacific Island|Small States","South Asia","Sub–Saharan|Africa"], "paddingInner": 0.276, "paddingOuter": 0.3015, "align": 0.736},
      "axis": {"title": null, "labelAngle": -90, "labelExpr": "split(datum.label, '|')", "labelOffset": {"condition": {"test": "indexof(datum.value, '|') >= 0", "value": -10}, "value": 0}, "labelLineHeight": 20, "labelPadding": 8, "labelLimit": 0, "labelOverlap": false, "labelBound": false, "labelFlush": false}},
    "xOffset": {"field": "year", "type": "nominal", "scale": {"domain": ["2015","2016","2017","2018","2019","2020"], "paddingInner": 0, "paddingOuter": 0}},
    "y": {"field": "value", "type": "quantitative", "scale": {"domain": [0, 1], "nice": false}, "axis": {"values": [0,0.25,0.5,0.75,1], "labelExpr": "datum.value == 0 ? '0' : format(datum.value, '.2f')", "title": null, "tickSize": 29, "labelPadding": 9}},
    "color": {"field": "year", "type": "nominal", "scale": {"domain": ["2015","2016","2017","2018","2019","2020"], "range": ["#0085C8","#FBB040","#EC155C","#00964A","#A8A9AD","#652D90"]}}
   }},
  {"data": {"values": [{"t": "Percentage"}]}, "mark": {"type": "point", "shape": "M0,-1L0.239,-0.78L0.239,0.78L0,1L-0.239,0.78L-0.239,-0.78Z", "size": 24025, "filled": true, "fill": "white", "stroke": "#222", "strokeWidth": 1, "opacity": 1}, "encoding": {"x": {"value": 0}, "y": {"datum": 0.5, "type": "quantitative"}}},
  {"data": {"values": [{"t": "Percentage"}]}, "mark": {"type": "text", "angle": 270, "font": "DejaVu Serif", "fontSize": 19, "color": "#111", "align": "center", "baseline": "middle"}, "encoding": {"x": {"value": 0}, "y": {"datum": 0.5, "type": "quantitative"}, "text": {"field": "t"}}}
 ]},
{"width": 442, "height": 243, "data": {"name": "bars"}, "transform": [{"filter": "datum.sector === 'WATER AND WASTE' && datum.sex === 'M'"}, {"fold": ["2015","2016","2017","2018","2019","2020"], "as": ["year","value"]}, {"filter": "isValid(datum.value)"}],
 "mark": {"type": "bar"},
 "encoding": {
  "x": {"field": "region", "type": "nominal", "scale": {"domain": ["East Africa|bio–statregy","European Union","East Asia and|the Pacific","Europe and|Central Asia","Latin America and|the Caribbean","Near East and|North Africa","North America","Pacific Island|Small States","South Asia","Sub–Saharan|Africa"], "paddingInner": 0.31, "paddingOuter": 0.077, "align": 0},
    "axis": {"title": null, "labelAngle": -90, "labelExpr": "split(replace(datum.label, 'bio', 'Bio'), '|')", "labelOffset": {"condition": {"test": "indexof(datum.value, '|') >= 0", "value": -10}, "value": 0}, "labelLineHeight": 20, "labelPadding": 8, "labelLimit": 0, "labelOverlap": false, "labelBound": false, "labelFlush": false}},
  "xOffset": {"field": "year", "type": "nominal", "scale": {"domain": ["2015","2016","2017","2018","2019","2020"], "paddingInner": 0, "paddingOuter": 0}},
  "y": {"field": "value", "type": "quantitative", "scale": {"domain": [0, 1], "nice": false}, "axis": {"values": [0,0.25,0.5,0.75,1], "title": null, "labels": false, "ticks": false, "domain": false}},
  "color": {"field": "year", "type": "nominal", "scale": {"domain": ["2015","2016","2017","2018","2019","2020"], "range": ["#0085C8","#FBB040","#EC155C","#00964A","#A8A9AD","#652D90"]}}
 }}
],
"config": {
 "view": {"stroke": "#3a3a3a", "strokeWidth": 1.5},
 "axis": {"gridColor": "#5c5249", "gridWidth": 1.3, "gridOpacity": 1, "tickColor": "#5c5249", "tickWidth": 1.3, "domainColor": "#000", "domainWidth": 1, "labelFont": "DejaVu Serif", "labelColor": "#111"},
 "axisY": {"labelFontSize": 17},
 "axisX": {"labelFontSize": 16, "tickColor": "#000", "tickWidth": 1, "tickSize": 9},
 "title": {"font": "Roboto", "fontSize": 24, "fontWeight": "bold", "color": "#E8175D", "anchor": "start", "frame": "group", "baseline": "alphabetic"}
}
}
